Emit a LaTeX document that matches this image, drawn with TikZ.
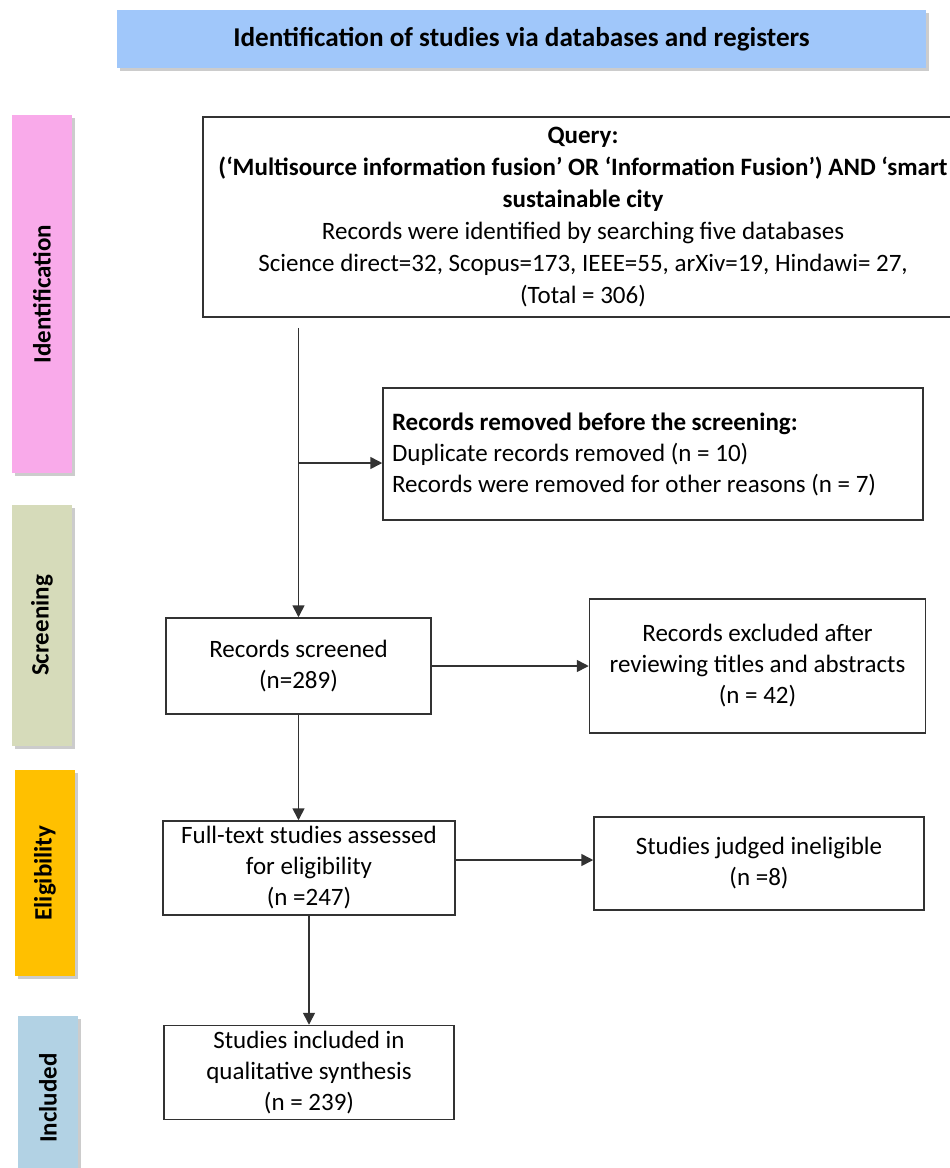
\documentclass[tikz,border=0pt]{standalone}
\usepackage{fontspec}
\setmainfont{Carlito}
\usetikzlibrary{arrows.meta,positioning,calc,shadows}
\definecolor{chead}{RGB}{160,199,250}
\definecolor{cident}{RGB}{249,170,234}
\definecolor{cscreen}{RGB}{214,219,186}
\definecolor{celig}{RGB}{255,192,0}
\definecolor{cincl}{RGB}{178,210,228}
\definecolor{cline}{RGB}{50,50,50}

\begin{document}
\begin{tikzpicture}[x=0.5pt,y=-0.5pt,font=\fontsize{12.5}{15.5}\selectfont,>={Triangle[length=6pt,width=6pt]},
  box/.style={draw=cline,line width=0.75pt,align=center,inner sep=2pt},
  phase/.style={minimum width=30pt,inner sep=0pt,font=\fontsize{12.5}{15}\selectfont\bfseries,
    drop shadow={shadow xshift=1.5pt,shadow yshift=-1.5pt,opacity=0.4}},
  flow/.style={->,draw=cline,line width=0.8pt}]
  \useasboundingbox (0,0) rectangle (949,1168);
  \node[fill=chead,minimum width=404.5pt,minimum height=29pt,font=\fontsize{13.6}{16}\selectfont\bfseries,
    drop shadow={shadow xshift=1.5pt,shadow yshift=-1.5pt,opacity=0.4}] (head) at (521.5,39)
    {Identification of studies via databases and registers};
  % phase bars on the left
  \node[phase,fill=cident,minimum height=179pt] (phIdent) at (42,294) {\rotatebox{90}{Identification}};
  \node[phase,fill=cscreen,minimum height=120.5pt] (phScreen) at (42,625.5) {\rotatebox{90}{Screening}};
  \node[phase,fill=celig,minimum height=103pt] (phElig) at (45,873) {\rotatebox{90}{Eligibility}};
  \node[phase,fill=cincl,minimum height=82pt] (phIncl) at (48,1098) {\rotatebox{90}{Included}};
  % flow boxes
  \node[box,minimum width=380pt,minimum height=100pt,font=\fontsize{12.5}{16}\selectfont] (query) at (583,217)
    {\textbf{Query:}\\\textbf{(‘Multisource information fusion’ OR ‘Information Fusion’) AND ‘smart}\\\textbf{sustainable city}\\
     Records were identified by searching five databases\\Science direct=32, Scopus=173, IEEE=55, arXiv=19, Hindawi= 27,\\(Total = 306)};
  \node[box,align=flush left,text width=261pt,inner xsep=4.5pt,minimum height=66pt] (removed) at (653,454)
    {\textbf{Records removed before the screening:}\\Duplicate records removed (n = 10)\\Records were removed for other reasons (n = 7)};
  \node[box,minimum width=132.5pt,minimum height=48pt] (screened) at (298.5,666) {Records screened\\(n=289)};
  \node[box,minimum width=168pt,minimum height=67pt,right=78.5pt of screened] (excluded)
    {Records excluded after\\reviewing titles and abstracts\\(n = 42)};
  \node[box,minimum width=146pt,minimum height=47pt] (fulltext) at (309,868) {Full-text studies assessed\\for eligibility\\(n =247)};
  \node[box,minimum width=165pt,minimum height=46.5pt] (inelig) at (759,863.5) {Studies judged ineligible\\(n =8)};
  \node[box,minimum width=145pt,minimum height=47pt,below=54.5pt of fulltext] (incl)
    {Studies included in\\qualitative synthesis\\(n = 239)};
  \coordinate (split) at ($(screened.north |- removed.west)+(0,9)$);
  \draw[flow,shorten <=5pt] (query.south -| screened.north) -- (screened.north);
  \draw[flow] (split) -- (split -| removed.west);
  \draw[flow] (screened.east) -- (excluded.west);
  \draw[flow] (screened.south) -- (screened.south |- fulltext.north);
  \draw[flow] ([yshift=4pt]fulltext.east) -- ([yshift=4pt]fulltext.east -| inelig.west);
  \draw[flow] (fulltext.south) -- (incl.north);
\end{tikzpicture}
\end{document}
